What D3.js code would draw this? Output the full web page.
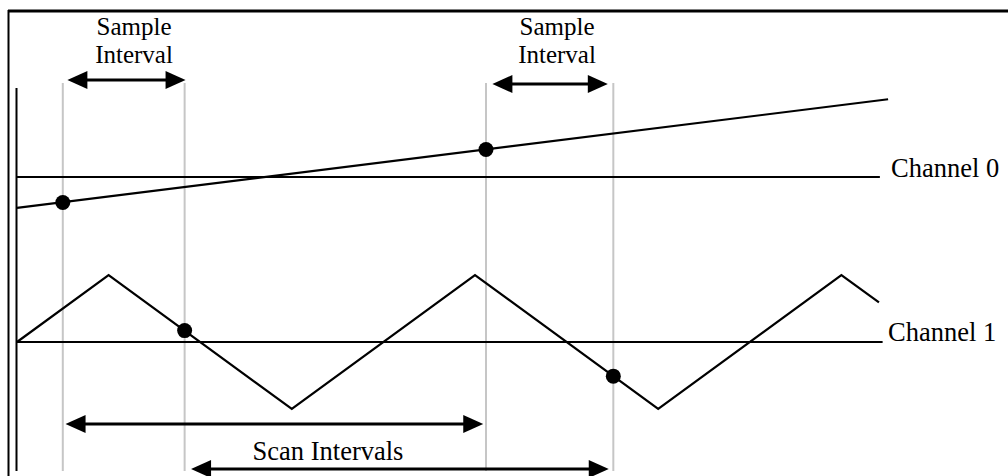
<!DOCTYPE html>
<html>
<head>
<meta charset="utf-8">
<script src="https://cdn.jsdelivr.net/npm/d3@7"></script>
<style>
html, body { margin: 0; padding: 0; background: #fff; }
svg { display: block; }
text { font-family: "Liberation Serif", "Times New Roman", serif; font-size: 26.5px; fill: #000; }
text.sl { font-size: 25px; }
</style>
</head>
<body>
<svg id="chart" width="1008" height="476"></svg>
<script>
// ---- Data (time in quarter-periods of the channel 1 wave, amplitude in wave units) ----
const channelNames = ["Channel 0", "Channel 1"];
// Channel 0: slow ramp
const ch0Times  = [0, 9.51];
const ch0Values = [-0.46, 1.16];
// Channel 1: triangle wave
const ch1Times  = [0, 1, 3, 5, 7, 9, 9.41];
const ch1Values = [0, 1, -1, 1, -1, 1, 0.59];
// Zero (reference) lines end
const zeroLineEnd = [9.42, 9.45];
// Sample instants (grey guide lines)
const sampleTimes = [0.5, 1.83, 5.12, 6.51];
// Sampled values at those instants
const ch0SampleTimes = [0.5, 5.12];
const ch0SampleValues = [-0.38, 0.41];
const ch1SampleTimes = [1.83, 6.51];
const ch1SampleValues = [0.17, -0.51];
// Interval arrows [start, end]
const sampleIntervalArrows = [[0.55, 1.84], [5.19, 6.45]];
const scanIntervalArrows = [[0.53, 5.09], [1.90, 6.46]];
const sampleLabel = ["Sample", "Interval"];
const scanLabel = "Scan Intervals";

// ---- Layout ----
const svg = d3.select("#chart");
const x = d3.scaleLinear().domain([0, 10]).range([17, 933]);
const unit = 67;
const y0 = d3.scaleLinear().domain([-1, 1]).range([177 + unit, 177 - unit]);
const y1 = d3.scaleLinear().domain([-1, 1]).range([342 + unit, 342 - unit]);

const grey = "#c6c6c6";
const sw = 2.2;

// Frame: top and left border
svg.append("line").attr("x1", 8).attr("x2", 1008).attr("y1", 11).attr("y2", 11)
  .attr("stroke", "#000").attr("stroke-width", 3);
svg.append("line").attr("x1", 8.5).attr("x2", 8.5).attr("y1", 10).attr("y2", 476)
  .attr("stroke", "#000").attr("stroke-width", 2);

// Grey sample lines
svg.selectAll("line.sample").data(sampleTimes).enter().append("line")
  .attr("class", "sample")
  .attr("x1", d => x(d)).attr("x2", d => x(d))
  .attr("y1", 83).attr("y2", 471)
  .attr("stroke", grey).attr("stroke-width", 2);

// Inner time axis (vertical start line)
svg.append("line").attr("x1", 16.5).attr("x2", 16.5).attr("y1", 88).attr("y2", 471)
  .attr("stroke", "#000").attr("stroke-width", 2);

// Zero lines
svg.append("line").attr("x1", x(0)).attr("x2", x(zeroLineEnd[0]))
  .attr("y1", y0(0)).attr("y2", y0(0)).attr("stroke", "#000").attr("stroke-width", sw);
svg.append("line").attr("x1", x(0)).attr("x2", x(zeroLineEnd[1]))
  .attr("y1", y1(0)).attr("y2", y1(0)).attr("stroke", "#000").attr("stroke-width", sw);

// Signals
const line0 = d3.line().x(d => x(d[0])).y(d => y0(d[1]));
const line1 = d3.line().x(d => x(d[0])).y(d => y1(d[1]));
svg.append("path").attr("d", line0(d3.zip(ch0Times, ch0Values)))
  .attr("fill", "none").attr("stroke", "#000").attr("stroke-width", sw);
svg.append("path").attr("d", line1(d3.zip(ch1Times, ch1Values)))
  .attr("fill", "none").attr("stroke", "#000").attr("stroke-width", sw)
  .attr("stroke-linejoin", "miter");

// Sample dots
svg.selectAll("circle.s0").data(d3.zip(ch0SampleTimes, ch0SampleValues)).enter().append("circle")
  .attr("cx", d => x(d[0])).attr("cy", d => y0(d[1])).attr("r", 7.5).attr("fill", "#000");
svg.selectAll("circle.s1").data(d3.zip(ch1SampleTimes, ch1SampleValues)).enter().append("circle")
  .attr("cx", d => x(d[0])).attr("cy", d => y1(d[1])).attr("r", 7.5).attr("fill", "#000");

// Double-headed arrows
function arrow(t0, t1, yy) {
  const a = x(t0), b = x(t1), L = 20, H = 9;
  const g = svg.append("g");
  g.append("line").attr("x1", a + L - 2).attr("x2", b - L + 2).attr("y1", yy).attr("y2", yy)
    .attr("stroke", "#000").attr("stroke-width", 3);
  g.append("path").attr("d", `M${a},${yy}L${a + L},${yy - H}L${a + L},${yy + H}Z`).attr("fill", "#000");
  g.append("path").attr("d", `M${b},${yy}L${b - L},${yy - H}L${b - L},${yy + H}Z`).attr("fill", "#000");
}
const sampleArrowY = [80, 84];
sampleIntervalArrows.forEach((d, i) => arrow(d[0], d[1], sampleArrowY[i]));
const scanArrowY = [424, 469];
scanIntervalArrows.forEach((d, i) => arrow(d[0], d[1], scanArrowY[i]));

// Labels
const labelCenters = [134, 557];
labelCenters.forEach(cx => {
  sampleLabel.forEach((s, j) => {
    svg.append("text").attr("class", "sl").attr("x", cx).attr("y", 35 + j * 28)
      .attr("text-anchor", "middle").text(s);
  });
});
svg.append("text").attr("x", 328).attr("y", 460).attr("text-anchor", "middle").text(scanLabel);
svg.append("text").attr("x", 891).attr("y", 177).text(channelNames[0]);
svg.append("text").attr("x", 888).attr("y", 341).text(channelNames[1]);
</script>
</body>
</html>
